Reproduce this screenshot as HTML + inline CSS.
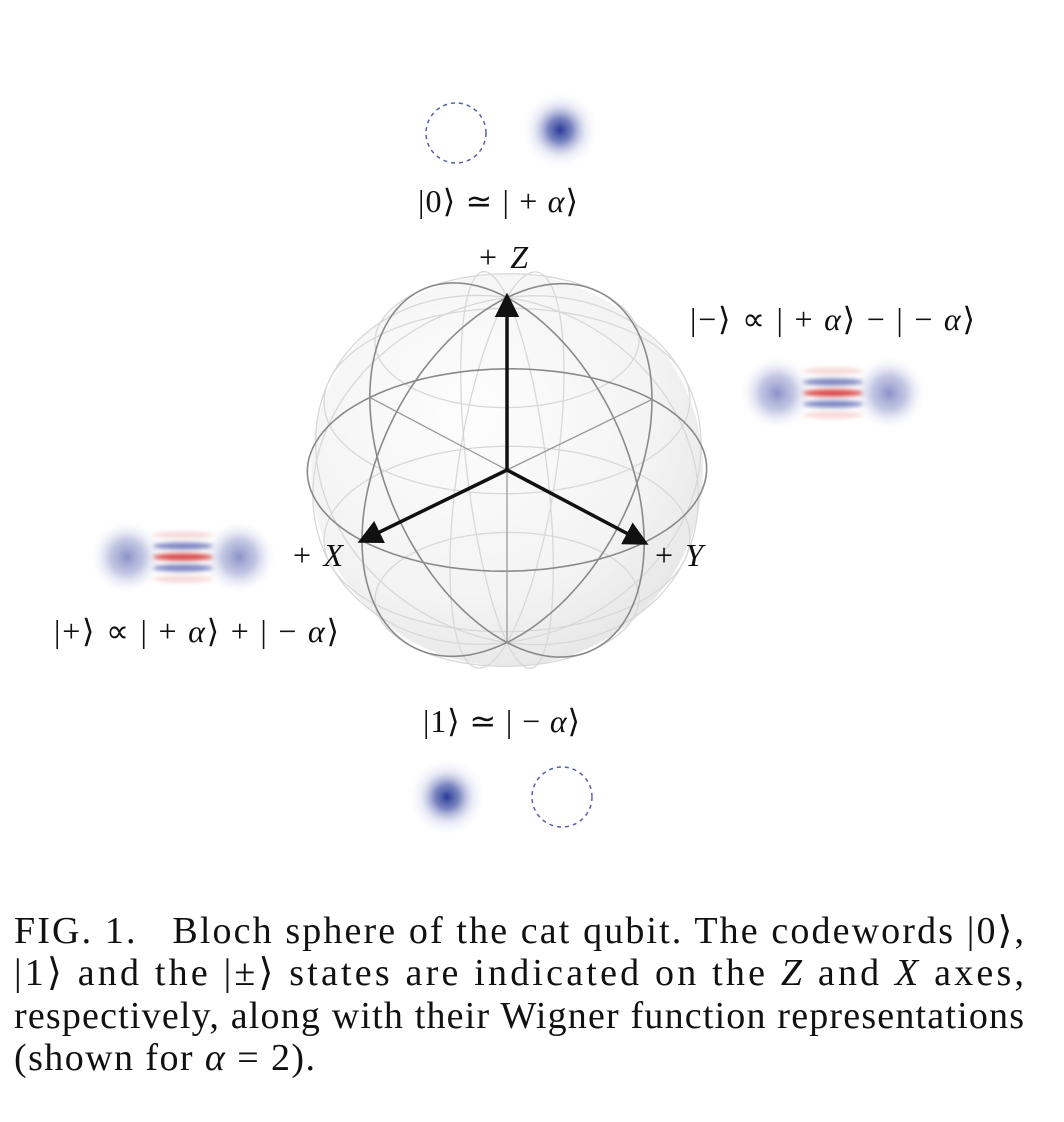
<!DOCTYPE html>
<html><head><meta charset="utf-8">
<style>
html,body{margin:0;padding:0;background:#fff;}
body{width:1064px;height:1122px;position:relative;overflow:hidden;font-family:"Liberation Serif",serif;}
text{font-family:"Liberation Serif",serif;fill:#111;}
</style></head><body>
<svg width="1064" height="1122" style="position:absolute;left:0;top:0">
<defs>
<radialGradient id="sph" cx="40%" cy="35%" r="70%">
<stop offset="0" stop-color="#fdfdfd"/><stop offset="0.7" stop-color="#f3f3f3"/><stop offset="1" stop-color="#e6e6e6"/>
</radialGradient>
<radialGradient id="blob">
<stop offset="0" stop-color="#2a3a9a"/><stop offset="0.3" stop-color="#5a68b0" stop-opacity="0.8"/><stop offset="0.65" stop-color="#c0c5e4" stop-opacity="0.35"/><stop offset="1" stop-color="#fff" stop-opacity="0"/>
</radialGradient>
<radialGradient id="blobL">
<stop offset="0" stop-color="#8a92c8"/><stop offset="0.45" stop-color="#aab0d8" stop-opacity="0.7"/><stop offset="1" stop-color="#fff" stop-opacity="0"/>
</radialGradient>
<filter id="bl" x="-50%" y="-50%" width="200%" height="200%"><feGaussianBlur stdDeviation="2"/></filter>
<marker id="arr" viewBox="0 0 10 10" refX="8" refY="5" markerWidth="7" markerHeight="7" orient="auto"><path d="M0,0 L10,5 L0,10 z" fill="#111"/></marker>
</defs>
<circle cx="507" cy="470" r="196" fill="url(#sph)"/>
<g id="grid"></g>
<g id="axes"></g>
<g id="wig"></g>
<g font-size="32">
<text x="418" y="212" textLength="160" lengthAdjust="spacing">|0⟩ ≃ | + <tspan font-style="italic">α</tspan>⟩</text>
<text x="479" y="268" textLength="49" lengthAdjust="spacing">+<tspan font-style="italic">Z</tspan></text>
<text x="690" y="330" textLength="285" lengthAdjust="spacing">|−⟩ ∝ | + <tspan font-style="italic">α</tspan>⟩ − | − <tspan font-style="italic">α</tspan>⟩</text>
<text x="293" y="566" textLength="50" lengthAdjust="spacing">+<tspan font-style="italic">X</tspan></text>
<text x="655" y="566" textLength="48" lengthAdjust="spacing">+<tspan font-style="italic">Y</tspan></text>
<text x="54" y="642" textLength="285" lengthAdjust="spacing">|+⟩ ∝ | + <tspan font-style="italic">α</tspan>⟩ + | − <tspan font-style="italic">α</tspan>⟩</text>
<text x="423" y="732" textLength="157" lengthAdjust="spacing">|1⟩ ≃ | − <tspan font-style="italic">α</tspan>⟩</text>
</g>
<g font-size="38">
<text x="14" y="943" textLength="1010" lengthAdjust="spacing" style="white-space:pre">FIG. 1.   Bloch sphere of the cat qubit. The codewords |0⟩,</text>
<text x="14" y="985" textLength="1010" lengthAdjust="spacing">|1⟩ and the |±⟩ states are indicated on the <tspan font-style="italic">Z</tspan> and <tspan font-style="italic">X</tspan> axes,</text>
<text x="14" y="1028" textLength="1010" lengthAdjust="spacing">respectively, along with their Wigner function representations</text>
<text x="14" y="1070" textLength="301" lengthAdjust="spacing">(shown for <tspan font-style="italic">α</tspan> = 2).</text>
</g>
</svg>
<script>
const cx=507,cy=470,R=196;
const VX=[-0.74,0.36],VY=[0.70,0.37],VZ=[0,-0.88];
const latitudes=[-0.75,-0.4,0.4,0.75];
const longitudes=[30,60,120,150];
const NS="http://www.w3.org/2000/svg";
function P(x,y,z){return [cx+R*(x*VX[0]+y*VY[0]+z*VZ[0]),cy+R*(x*VX[1]+y*VY[1]+z*VZ[1])];}
function path(f,stroke,w){let d="";for(let i=0;i<=120;i++){const t=i/120*2*Math.PI;const p=f(t);d+=(i?"L":"M")+p[0].toFixed(1)+","+p[1].toFixed(1);}
const e=document.createElementNS(NS,"path");e.setAttribute("d",d);e.setAttribute("fill","none");e.setAttribute("stroke",stroke);e.setAttribute("stroke-width",w);return e;}
const g=document.getElementById("grid");
latitudes.forEach(h=>{const r=Math.sqrt(1-h*h);const e=path(t=>P(r*Math.cos(t),r*Math.sin(t),h),"#d8d8d8",1.3);

g.appendChild(e);});
longitudes.forEach(a=>{const A=a*Math.PI/180;const e=path(t=>P(Math.cos(A)*Math.cos(t),Math.sin(A)*Math.cos(t),Math.sin(t)),"#d8d8d8",1.3);

g.appendChild(e);});
[[t=>P(Math.cos(t),Math.sin(t),0),'equator-circle'],[t=>P(Math.cos(t),0,Math.sin(t)),'xz-circle'],[t=>P(0,Math.cos(t),Math.sin(t)),'yz-circle']].forEach(([f,n])=>{const e=path(f,"#8a8a8a",1.6);

g.appendChild(e);});
[[[-1,0,0],[1,0,0]],[[0,-1,0],[0,1,0]],[[0,0,-1],[0,0,1]]].forEach(([a,b])=>{const p=P(...a),q=P(...b);const l=document.createElementNS(NS,"line");
l.setAttribute("x1",p[0]);l.setAttribute("y1",p[1]);l.setAttribute("x2",q[0]);l.setAttribute("y2",q[1]);l.setAttribute("stroke","#999");l.setAttribute("stroke-width","1.3");

g.appendChild(l);});
const ax=document.getElementById("axes");
[[[1,0,0],'x-axis-arrow'],[[0,1,0],'y-axis-arrow'],[[0,0,1],'z-axis-arrow']].forEach(([v,n])=>{const q=P(...v);const l=document.createElementNS(NS,"line");
l.setAttribute("x1",cx);l.setAttribute("y1",cy);l.setAttribute("x2",q[0]);l.setAttribute("y2",q[1]);l.setAttribute("stroke","#111");l.setAttribute("stroke-width","3.5");l.setAttribute("marker-end","url(#arr)");

ax.appendChild(l);});
const w=document.getElementById("wig");
function el(tag,attrs,name){const e=document.createElementNS(NS,tag);for(const k in attrs)e.setAttribute(k,attrs[k]);

w.appendChild(e);return e;}
el("circle",{cx:456,cy:133,r:30,fill:"none",stroke:"#5560a8","stroke-width":1.5,"stroke-dasharray":"4 4"},"empty-coherent-zero");
el("circle",{cx:560,cy:130,r:40,fill:"url(#blob)"},"coherent-blob-zero");
el("circle",{cx:447,cy:797,r:40,fill:"url(#blob)"},"coherent-blob-one");
el("circle",{cx:562,cy:797,r:30,fill:"none",stroke:"#5560a8","stroke-width":1.5,"stroke-dasharray":"4 4"},"empty-coherent-one");
function cat(x0,y0,name){
 el("circle",{cx:x0-56,cy:y0,r:38,fill:"url(#blobL)"},name+"-left-blob");
 el("circle",{cx:x0+56,cy:y0,r:38,fill:"url(#blobL)"},name+"-right-blob");
 const stripes=[[-22,"#f1c0c0",0.6],[-11,"#5e68b2",0.8],[0,"#d84848",1],[11,"#5e68b2",0.8],[22,"#f1c0c0",0.6]];
 stripes.forEach(s=>{el("ellipse",{cx:x0,cy:y0+s[0],rx:30,ry:3.6,fill:s[1],opacity:s[2],filter:"url(#bl)"},name+"-fringe");});
}
cat(833,393,"cat-minus");
cat(183,557,"cat-plus");
</script>
</body></html>
